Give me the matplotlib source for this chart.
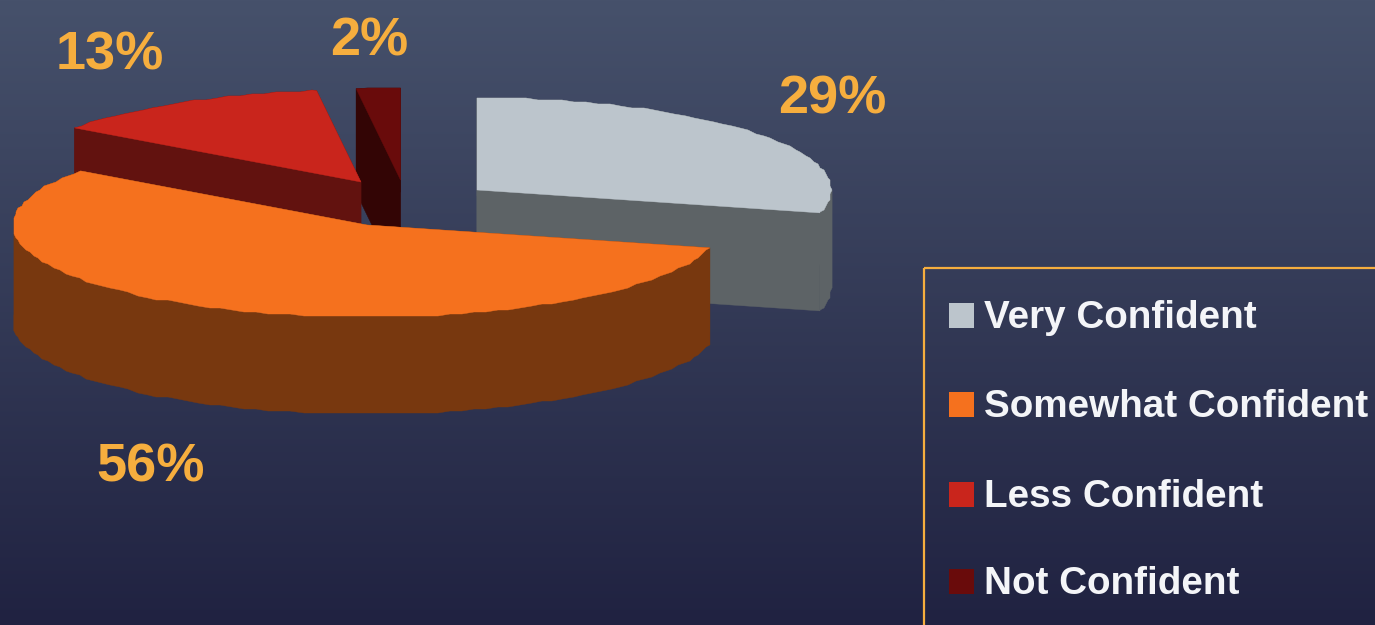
import numpy as np
import matplotlib as mpl
import matplotlib.pyplot as plt
from matplotlib.patches import Rectangle

mpl.rcParams['font.family'] = ['Liberation Sans', 'DejaVu Sans']

# chart data
categories = ['Very Confident', 'Somewhat Confident', 'Less Confident', 'Not Confident']
shares = [29, 56, 13, 2]

# styles and placement, all in pixels of the 1375x625 picture
top_colors = ['#bcc5cc', '#f5711e', '#c9251c', '#690b0b']
wall_colors = ['#5d6366', '#78380f', '#62120f', '#330505']
centers = [(477, 190), (367, 225), (361, 182), (400.5, 180)]
depths = [98, 97, 96, 104]
draw_order = [0, 3, 2, 1]
label_pos = [(832, 113), (151, 481), (110, 69), (369, 55)]
legend_y = [303, 392, 482, 569]
radius_x, radius_y = 354, 92
label_color = '#f6ae3e'

fig = plt.figure(figsize=(13.75, 6.25), dpi=100)
ax = fig.add_axes([0, 0, 1, 1])
ax.set_xlim(0, 1375)
ax.set_ylim(625, 0)
ax.axis('off')

# vertical background gradient
top_bg = np.array(mpl.colors.to_rgb('#46516b'))
bottom_bg = np.array(mpl.colors.to_rgb('#202241'))
ramp = np.linspace(0, 1, 256)[:, None, None]
ax.imshow(top_bg + (bottom_bg - top_bg) * ramp, extent=(0, 1375, 625, 0), aspect='auto', zorder=0)


def rim(start, stop, center):
  ''' outer edge of one slice, snapped to a grid for the rough edge of the original '''
  angles = np.radians(np.arange(start, stop, 2.0))
  angles = np.append(angles, np.radians(stop))
  x = center[0] + radius_x * np.sin(angles)
  y = center[1] - radius_y * np.cos(angles)
  x[1:-1] = np.round(x[1:-1] / 2) * 2
  y[1:-1] = np.round(y[1:-1] / 2) * 2
  return x, y


edges = np.r_[0, np.cumsum(shares)] * 3.6

for layer, i in enumerate(draw_order):
  x, y = rim(edges[i], edges[i + 1], centers[i])
  cx, cy = centers[i]
  d = depths[i]
  z = 1 + layer
  # the two cut faces
  for px, py in [(x[0], y[0]), (x[-1], y[-1])]:
    ax.fill([cx, px, px, cx], [cy, py, py + d, cy + d], color=wall_colors[i], lw=0.3, zorder=z)
  # outer band, cut where the rim turns back so each piece is a plain polygon
  turns = sorted({int(np.argmin(x)), int(np.argmax(x))})
  bounds = [0] + turns + [len(x) - 1]
  for a, b in zip(bounds[:-1], bounds[1:]):
    if b > a:
      bx, by = x[a:b + 1], y[a:b + 1]
      ax.fill(np.r_[bx, bx[::-1]], np.r_[by, by[::-1] + d], color=wall_colors[i], lw=0.3, zorder=z)
  ax.fill(np.r_[cx, x], np.r_[cy, y], color=top_colors[i], lw=0.3, zorder=z)

for i, share in enumerate(shares):
  ax.text(label_pos[i][0], label_pos[i][1], f'{share}%', color=label_color, fontsize=39,
          fontweight='bold', ha='center', va='baseline', zorder=20)

# legend box runs off the right and bottom of the picture
ax.add_patch(Rectangle((924.5, 267.5), 500, 400, fill=False, edgecolor=label_color, lw=1.6, zorder=20))
for i, name in enumerate(categories):
  ax.add_patch(Rectangle((949, legend_y[i]), 25, 25, facecolor=top_colors[i], edgecolor='none', zorder=21))
  ax.text(984, legend_y[i] + 25, name, color='#f4f5f8', fontsize=27.8, fontweight='bold',
          ha='left', va='baseline', zorder=21)

fig.savefig('out.png', dpi=100)
